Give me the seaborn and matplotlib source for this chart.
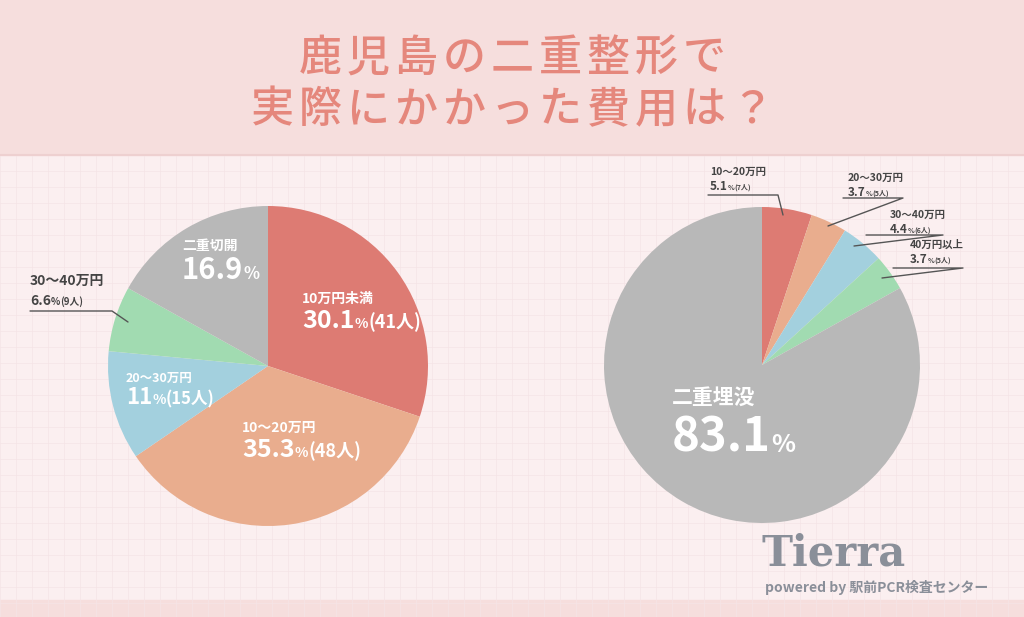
import matplotlib
matplotlib.use("Agg")
import matplotlib.pyplot as plt
import seaborn as sns
import numpy as np

sns.set_theme(style="white")
FONT = "Noto Sans CJK JP"
plt.rcParams["font.family"] = FONT

title_lines = ["鹿児島の二重整形で", "実際にかかった費用は？"]

left_labels = ["10万円未満", "10〜20万円", "20〜30万円", "30〜40万円", "二重切開"]
left_values = [30.1, 35.3, 11.0, 6.6, 16.9]
left_counts = ["(41人)", "(48人)", "(15人)", "(9人)", ""]
left_colors = ["#dd7b73", "#e9ad8e", "#a3d0de", "#a1dbb1", "#b8b8b8"]

right_labels = ["10〜20万円", "20〜30万円", "30〜40万円", "40万円以上", "二重埋没"]
right_values = [5.1, 3.7, 4.4, 3.7, 83.1]
right_counts = ["(7人)", "(5人)", "(6人)", "(5人)", ""]
right_colors = ["#dd7b73", "#e9ad8e", "#a3d0de", "#a1dbb1", "#b8b8b8"]

W, H = 1024, 617
fig = plt.figure(figsize=(W/100, H/100), dpi=100)
fig.patch.set_facecolor("#fbeff0")

bg = fig.add_axes([0, 0, 1, 1], zorder=0)
bg.set_xlim(0, W); bg.set_ylim(H, 0); bg.axis("off")
for x in np.arange(0, W, 16):
    bg.plot([x, x], [155, H], color="#f5e4e6", lw=0.5)
for y in np.arange(155, H, 16):
    bg.plot([0, W], [y, y], color="#f5e4e6", lw=0.5)
bg.add_patch(plt.Rectangle((0, 0), W, 155, color="#f6dedd"))
bg.plot([0, W], [155, 155], color="#eed0d0", lw=1.5)
bg.add_patch(plt.Rectangle((0, 600), W, 17, color="#f6dedd"))

def pie_ax(cx, cy, r, vals, cols):
    ax = fig.add_axes([(cx-r)/W, (H-cy-r)/H, 2*r/W, 2*r/H], zorder=1)
    ax.pie(vals, colors=cols, startangle=90, counterclock=False,
           wedgeprops=dict(linewidth=0))
    ax.set_xlim(-1, 1); ax.set_ylim(-1, 1)
    ax.set_aspect("auto")
    ax.axis("off")
    return ax

pie_ax(268, 366, 160, left_values, left_colors)
pie_ax(762, 365, 158, right_values, right_colors)

ov = fig.add_axes([0, 0, 1, 1], zorder=2)
ov.set_xlim(0, W); ov.set_ylim(H, 0); ov.axis("off"); ov.patch.set_alpha(0)

step = 48
for line, y in zip(title_lines, [58, 110]):
    n = len(line)
    x0 = 512 - step * (n - 1) / 2
    for k, ch in enumerate(line):
        ov.text(x0 + k * step, y, ch, ha="center", va="center", fontsize=31,
                color="#e5877c", fontweight="medium")

fig.canvas.draw()
rend = fig.canvas.get_renderer()

def chain(x, y, parts, color):
    for txt, sz in parts:
        if not txt:
            continue
        t = ov.text(x, y, txt, ha="left", va="baseline", fontsize=sz,
                    color=color, fontweight="bold")
        x += t.get_window_extent(rend).width
    return x

def label(x, y, name, val, cnt, color, ns, vs, ps, cs, gap=1.4):
    ov.text(x, y, name, ha="left", va="baseline", fontsize=ns, color=color, fontweight="bold")
    chain(x, y + vs*gap, [(f"{val:g}", vs), ("%", ps), (cnt, cs)], color)

def leader(pts):
    xs, ys = zip(*pts)
    ov.plot(xs, ys, color="#555555", lw=1)

white, dark = "white", "#444444"
label(182, 250, left_labels[4], left_values[4], "", white, 10, 21, 12, 12)
label(302, 303, left_labels[0], left_values[0], left_counts[0], white, 10, 18, 10, 13)
label(242, 432, left_labels[1], left_values[1], left_counts[1], white, 10, 18, 10, 13)
label(126, 382, left_labels[2], left_values[2], left_counts[2], white, 9, 16, 10, 12)
label(30, 285, left_labels[3], left_values[3], left_counts[3], dark, 10, 10, 7, 7, gap=2.0)
leader([(30, 311), (112, 311), (128, 322)])

label(672, 404, right_labels[4], right_values[4], "", white, 15, 34, 18, 18)
small = [(710, 175, [(708, 195), (778, 195), (783, 215)]),
         (848, 181, [(843, 198), (903, 198), (828, 226)]),
         (890, 218, [(866, 235), (943, 235), (854, 246)]),
         (910, 248, [(893, 268), (963, 268), (882, 278)])]
for i, (x, y, pts) in enumerate(small):
    ov.text(x, y, right_labels[i], ha="left", va="baseline", fontsize=7.5,
            color=dark, fontweight="bold")
    chain(x, y + 15, [(f"{right_values[i]:g}", 8.5), ("%", 5), (right_counts[i], 5)], dark)
    leader(pts)

ov.text(762, 565, "Tierra", fontsize=30, color="#8a8f99", fontweight="bold",
        fontfamily="DejaVu Serif", va="baseline")
ov.text(765, 592, "powered by 駅前PCR検査センター", fontsize=10, color="#8a8f99",
        fontweight="bold", va="baseline")

fig.savefig("out.png", dpi=100, facecolor=fig.get_facecolor())
